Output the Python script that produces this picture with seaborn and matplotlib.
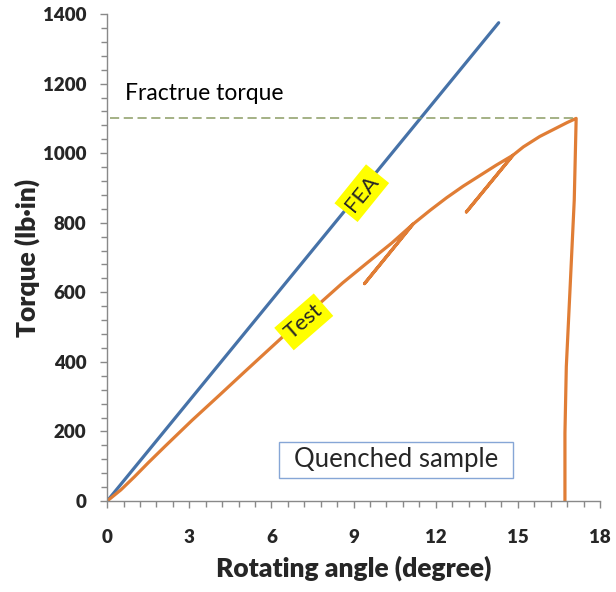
import matplotlib
matplotlib.use("Agg")
import matplotlib.pyplot as plt
import seaborn as sns
import pandas as pd
from matplotlib.ticker import MultipleLocator
from matplotlib.patches import Rectangle

# ---- data ----
fea_angle = [0.0, 14.3]
fea_torque = [0, 1375]

test_angle = [0.0, 0.5, 1.0, 1.5, 2.11, 3.1, 4.11, 5.0, 5.94, 6.8, 7.76, 8.6,
              9.47, 10.4, 11.17,
              9.40, 11.17, 11.8, 12.4, 13.0, 13.6, 14.2, 14.82,
              13.12, 14.82, 15.2, 15.8, 16.4, 16.8, 17.13,
              17.06, 16.91, 16.77, 16.72, 16.72]
test_torque = [0, 32, 70, 110, 157, 232, 305, 370, 438, 500, 568, 627,
               683, 742, 796,
               625, 796, 836, 872, 905, 935, 965, 994,
               831, 994, 1018, 1048, 1072, 1088, 1100,
               865, 616, 386, 195, 0]

fracture_torque = 1100
x_ticks = [0, 3, 6, 9, 12, 15, 18]
y_ticks = [0, 200, 400, 600, 800, 1000, 1200, 1400]

sns.set_theme(style="white")
plt.rcParams['font.family'] = ['Lato', 'DejaVu Sans']

fig = plt.figure(figsize=(6.16, 5.92), dpi=100)
ax = fig.add_axes([0.174, 0.1537, 0.800, 0.8226])

blue = "#4672a8"
orange = "#e07d35"

df_fea = pd.DataFrame({"angle": fea_angle, "torque": fea_torque})
df_test = pd.DataFrame({"angle": test_angle, "torque": test_torque})

sns.lineplot(data=df_fea, x="angle", y="torque", ax=ax, color=blue, lw=2.3,
             sort=False, estimator=None)
sns.lineplot(data=df_test, x="angle", y="torque", ax=ax, color=orange, lw=2.3,
             sort=False, estimator=None)

# fracture torque dashed line
ax.plot([0.1, test_angle[test_torque.index(fracture_torque)]],
        [fracture_torque, fracture_torque], color="#8c9c64", lw=1.1,
        ls=(0, (6, 3)))
ax.text(0.65, 1172, "Fractrue torque", fontsize=16.5, va="center", ha="left",
        color="black")

# labels on lines
ax.text(9.3, 885, "FEA", rotation=51, fontsize=16, ha="center", va="center",
        bbox=dict(boxstyle="square,pad=0.22", fc="#ffff00", ec="none"))
ax.text(7.18, 515, "Test", rotation=41, fontsize=16, ha="center", va="center",
        bbox=dict(boxstyle="square,pad=0.22", fc="#ffff00", ec="none"))

# quenched sample box
ax.add_patch(Rectangle((6.27, 66), 8.57, 104, fc="white", ec="#86a6d6", lw=1.0,
                       zorder=3))
ax.text(10.555, 118, "Quenched sample", fontsize=18.5, ha="center", va="center",
        zorder=4)

ax.set_xlim(0, 18)
ax.set_ylim(0, 1400)
ax.set_xticks(x_ticks)
ax.set_yticks(y_ticks)
ax.xaxis.set_minor_locator(MultipleLocator(0.6))
ax.yaxis.set_minor_locator(MultipleLocator(40))

for s in ["top", "right"]:
    ax.spines[s].set_visible(False)
for s in ["left", "bottom"]:
    ax.spines[s].set_color("#898989")
    ax.spines[s].set_linewidth(1.0)

ax.tick_params(axis="both", which="major", direction="out", length=5,
               width=1, color="#898989", labelsize=13.5)
ax.tick_params(axis="both", which="minor", direction="out", length=4,
               width=1, color="#898989")
ax.tick_params(axis="x", which="major", pad=15)
ax.tick_params(axis="y", which="major", pad=10)
ax.tick_params(axis="both", which="both", bottom=True, left=True)
for lbl in ax.get_xticklabels() + ax.get_yticklabels():
    lbl.set_fontweight("heavy")

ax.set_xlabel("Rotating angle (degree)", fontsize=19, fontweight="heavy",
              labelpad=7)
ax.set_ylabel("Torque (lb·in)", fontsize=19, fontweight="heavy", labelpad=2)
ax.grid(False)

fig.savefig("out.png", dpi=100)
